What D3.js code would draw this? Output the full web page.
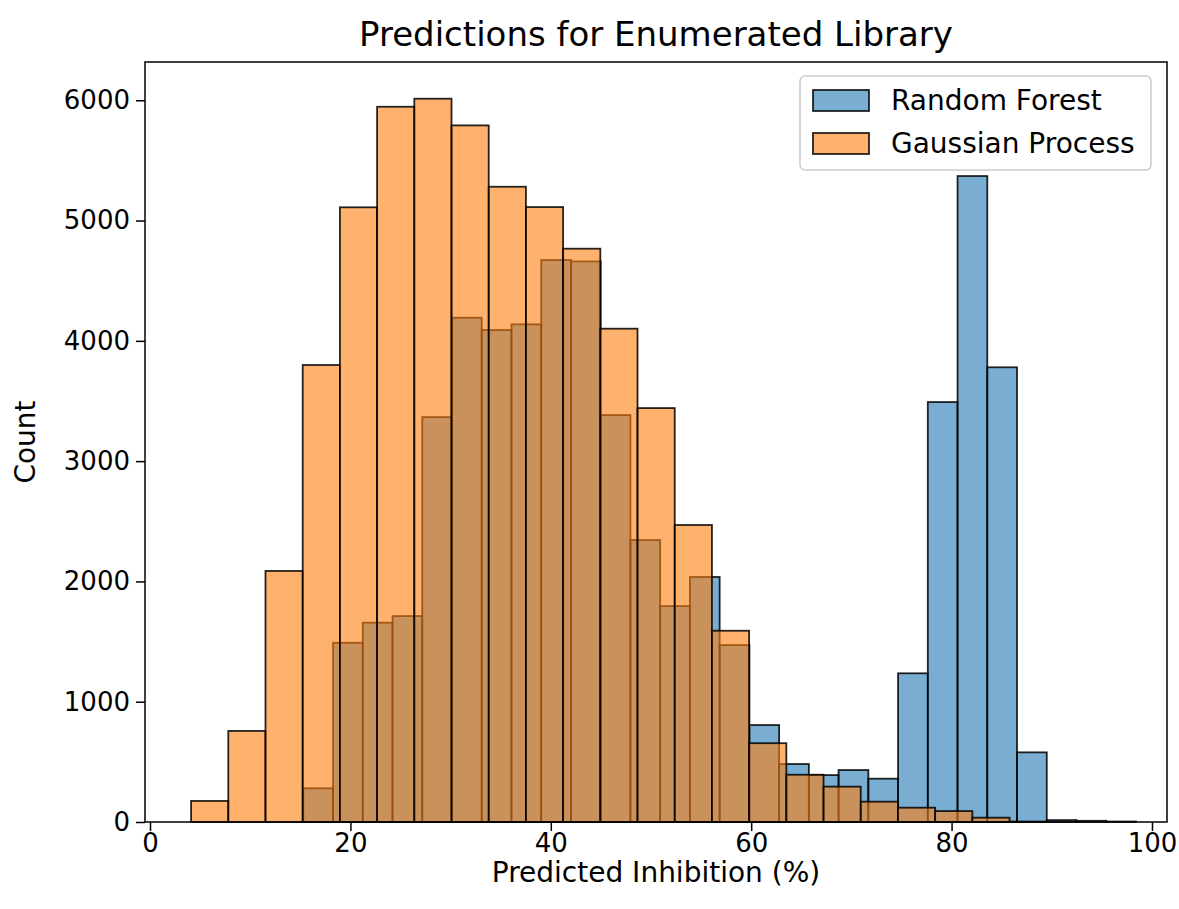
<!DOCTYPE html>
<html lang="en">
  <head>
    <meta charset="utf-8">
    <title>Predictions for Enumerated Library</title>
    <style>
      body { margin: 0; background: #fff; }
      text { font-family: "DejaVu Sans", sans-serif; fill: #000; }
    </style>
  </head>
  <body>

<script src="https://d3js.org/d3.v7.min.js"></script>

<script>
// Random Forest histogram: first bin edge, bin width, counts per bin
var rfStart = 15.3;
var rfWidth = 2.968;
var rfCounts = [280, 1490, 1657, 1712, 3366, 4192, 4090, 4137, 4672, 4660,
                3383, 2344, 1795, 2037, 1471, 806, 482, 390, 432, 360,
                1236, 3491, 5370, 3780, 579, 16, 10, 4];

// Gaussian Process histogram
var gpStart = 4.1;
var gpWidth = 3.713;
var gpCounts = [175, 757, 2087, 3799, 5110, 5946, 6013, 5791, 5281, 5112,
                4766, 4101, 3441, 2469, 1590, 655, 393, 294, 169, 119,
                91, 36, 4];

var xTicks = [0, 20, 40, 60, 80, 100];
var yTicks = [0, 1000, 2000, 3000, 4000, 5000, 6000];
var seriesNames = ['Random Forest', 'Gaussian Process'];
var seriesColors = ['#1f77b4', '#ff7f0e'];

// figure layout
var W = 1179, H = 909;
var margin = {top: 62, right: 12, bottom: 87, left: 145};
var w = W - margin.left - margin.right,
    h = H - margin.top - margin.bottom;

var svg = d3.select('body').append('svg')
  .attr('width', W)
  .attr('height', H);

var g = svg.append('g')
  .attr('transform', 'translate(' + margin.left + ',' + margin.top + ')');

var x = d3.scaleLinear().domain([-0.5, 101.5]).range([0, w]);
var y = d3.scaleLinear().domain([0, 6318]).range([h, 0]);

// turn start/width/counts into bin objects
function toBins(start, width, counts) {
  return counts.map(function(c, i) {
    return {x0: start + i * width, x1: start + (i + 1) * width, count: c};
  });
}

var layers = [toBins(rfStart, rfWidth, rfCounts), toBins(gpStart, gpWidth, gpCounts)];

layers.forEach(function(bins, k) {
  g.append('g')
    .selectAll('rect')
    .data(bins)
    .enter()
    .append('rect')
      .attr('x', function(d) { return x(d.x0); })
      .attr('y', function(d) { return y(d.count); })
      .attr('width', function(d) { return x(d.x1) - x(d.x0); })
      .attr('height', function(d) { return y(0) - y(d.count); })
      .attr('fill', seriesColors[k])
      .attr('fill-opacity', 0.6)
      .attr('stroke', '#000')
      .attr('stroke-opacity', 0.85)
      .attr('stroke-width', 1.8);
});

// axes
var xAxis = g.append('g')
  .attr('transform', 'translate(0,' + h + ')')
  .call(d3.axisBottom(x).tickValues(xTicks).tickSize(9).tickPadding(3));
var yAxis = g.append('g')
  .call(d3.axisLeft(y).tickValues(yTicks).tickFormat(d3.format('d')).tickSize(9).tickPadding(6));

[xAxis, yAxis].forEach(function(a) {
  a.select('.domain').remove();
  a.selectAll('line').attr('stroke', '#000').attr('stroke-width', 1.5);
  a.selectAll('text')
    .style('font-family', '"DejaVu Sans", sans-serif')
    .style('font-size', '26px')
    .attr('fill', '#000');
});

// frame
g.append('rect')
  .attr('width', w)
  .attr('height', h)
  .attr('fill', 'none')
  .attr('stroke', '#000')
  .attr('stroke-width', 1.5);

// titles
svg.append('text')
  .attr('x', margin.left + w / 2)
  .attr('y', 46)
  .attr('text-anchor', 'middle')
  .style('font-size', '34px')
  .text('Predictions for Enumerated Library');

svg.append('text')
  .attr('x', margin.left + w / 2)
  .attr('y', 882)
  .attr('text-anchor', 'middle')
  .style('font-size', '28px')
  .text('Predicted Inhibition (%)');

svg.append('text')
  .attr('transform', 'translate(35,' + (margin.top + h / 2) + ') rotate(-90)')
  .attr('text-anchor', 'middle')
  .style('font-size', '28px')
  .text('Count');

// legend
var legend = svg.append('g').attr('transform', 'translate(800,76)');
legend.append('rect')
  .attr('width', 351)
  .attr('height', 94)
  .attr('rx', 5)
  .attr('fill', '#fff')
  .attr('fill-opacity', 0.8)
  .attr('stroke', '#ccc')
  .attr('stroke-width', 1.5);

var item = legend.selectAll('.item')
  .data(seriesNames)
  .enter()
  .append('g')
    .attr('class', 'item')
    .attr('transform', function(d, i) { return 'translate(0,' + (i * 43) + ')'; });

item.append('rect')
  .attr('x', 13)
  .attr('y', 14)
  .attr('width', 56)
  .attr('height', 21)
  .attr('fill', function(d, i) { return seriesColors[i]; })
  .attr('fill-opacity', 0.6)
  .attr('stroke', '#000')
  .attr('stroke-opacity', 0.85)
  .attr('stroke-width', 1.8);

item.append('text')
  .attr('x', 91)
  .attr('y', 34)
  .style('font-size', '28px')
  .text(function(d) { return d; });
</script>

  </body>
</html>
